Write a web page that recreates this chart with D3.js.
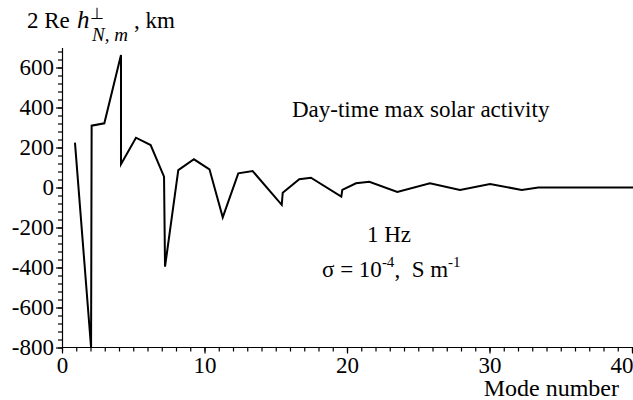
<!DOCTYPE html>
<html>
<head>
<meta charset="utf-8">
<script src="https://cdn.jsdelivr.net/npm/d3@7"></script>
<style>
  html, body { margin: 0; padding: 0; background: #fff; }
  svg { display: block; font-family: "Liberation Serif", "Times New Roman", serif; }
</style>
</head>
<body>
<div id="chart"></div>
<script>
// mode positions and 2 Re h values (km)
const modeNumber = [0.91, 2.04, 2.08, 2.97, 4.14, 4.14, 5.19, 6.22, 7.16, 7.23,
  8.16, 9.26, 10.35, 11.28, 12.37, 13.38, 15.42, 15.49, 16.65, 17.47,
  19.6, 19.67, 20.63, 21.57, 23.53, 25.82, 27.93, 30.04, 32.26, 33.43, 40.1];
const reH = [224, -800, 309, 321, 662, 116, 249, 212, 54, -396,
  87, 141, 91, -149, 71, 82, -87, -26, 41, 49,
  -46, -12, 21, 29, -22, 21, -12, 17, -12, 0, 0];

const xTicks = [0, 10, 20, 30, 40];
const xMinor = d3.range(0, 41, 1);
const yTicks = [-800, -600, -400, -200, 0, 200, 400, 600];
const yMinor = d3.range(-800, 700, 40);

const width = 633;
const height = 400;
const fs = 23;

const svg = d3.select("#chart").append("svg")
    .attr("width", width)
    .attr("height", height);

const x = d3.scaleLinear().domain([0, 40]).range([62, 632]);
const y = d3.scaleLinear().domain([-800, 700]).range([347.5, 47.5]);

// y axis: minor ticks first, then major ticks with labels
svg.append("g")
    .attr("transform", `translate(${x(0)},0)`)
    .call(d3.axisLeft(y).tickValues(yMinor).tickSize(4).tickSizeOuter(0).tickFormat(""))
    .call(g => g.selectAll("line,path").attr("stroke", "#000").attr("stroke-width", 1.2));

svg.append("g")
    .attr("transform", `translate(${x(0)},0)`)
    .call(d3.axisLeft(y).tickValues(yTicks).tickSize(6).tickSizeOuter(0).tickPadding(2))
    .call(g => g.select(".domain").remove())
    .call(g => g.selectAll("line").attr("stroke", "#000").attr("stroke-width", 1.2))
    .call(g => g.selectAll("text")
        .attr("font-family", "Liberation Serif, serif")
        .attr("font-size", fs)
        .attr("fill", "#000")
        .text(d => d < 0 ? "-" + Math.abs(d) : d));

// x axis at the bottom of the frame
svg.append("g")
    .attr("transform", `translate(0,${y(-800)})`)
    .call(d3.axisBottom(x).tickValues(xMinor).tickSize(4).tickSizeOuter(0).tickFormat(""))
    .call(g => g.select(".domain").attr("d", `M${x(0)},0H${width}`))
    .call(g => g.selectAll("line,path").attr("stroke", "#000").attr("stroke-width", 1.2));

svg.append("g")
    .attr("transform", `translate(0,${y(-800)})`)
    .call(d3.axisBottom(x).tickValues(xTicks).tickSize(6).tickSizeOuter(0).tickPadding(3))
    .call(g => g.select(".domain").remove())
    .call(g => g.selectAll("line").attr("stroke", "#000").attr("stroke-width", 1.2))
    .call(g => g.selectAll("text")
        .attr("font-family", "Liberation Serif, serif")
        .attr("font-size", fs)
        .attr("fill", "#000")
        // last label is pulled inside the frame, as in the original
        .attr("text-anchor", d => d === 40 ? "end" : "middle")
        .attr("dx", d => d === 40 ? 1 : 0));

// the curve
const line = d3.line()
    .x((d, i) => x(modeNumber[i]))
    .y(d => y(d));

svg.append("path")
    .datum(reH)
    .attr("d", line)
    .attr("fill", "none")
    .attr("stroke", "#000")
    .attr("stroke-width", 2)
    .attr("stroke-linejoin", "miter");

// axis titles
const title = svg.append("g").attr("font-size", fs).attr("fill", "#000");
title.append("text").attr("x", 27).attr("y", 28).text("2 Re");
title.append("text").attr("x", 77).attr("y", 28)
    .attr("font-style", "italic").attr("font-size", 25).text("h");
title.append("text").attr("x", 90).attr("y", 19).attr("font-size", 16).text("\u22A5");
title.append("text").attr("x", 92).attr("y", 41)
    .attr("font-style", "italic").attr("font-size", 19).text("N, m");
title.append("text").attr("x", 134).attr("y", 28).text(", km");

svg.append("text")
    .attr("x", 619).attr("y", 396)
    .attr("text-anchor", "end")
    .attr("font-size", fs + 1)
    .text("Mode number");

// annotations
svg.append("text")
    .attr("x", 292).attr("y", 117)
    .attr("font-size", fs)
    .text("Day-time max solar activity");

svg.append("text")
    .attr("x", 367).attr("y", 241.5)
    .attr("font-size", fs)
    .text("1 Hz");

const sigma = svg.append("text")
    .attr("x", 322).attr("y", 277)
    .attr("font-size", fs)
    .attr("xml:space", "preserve");
sigma.append("tspan").text("\u03C3 = 10");
sigma.append("tspan").attr("dy", -10).attr("font-size", 15).text("-4");
sigma.append("tspan").attr("dy", 10).text(",  S m");
sigma.append("tspan").attr("dy", -10).attr("font-size", 15).text("-1");
</script>
</body>
</html>
